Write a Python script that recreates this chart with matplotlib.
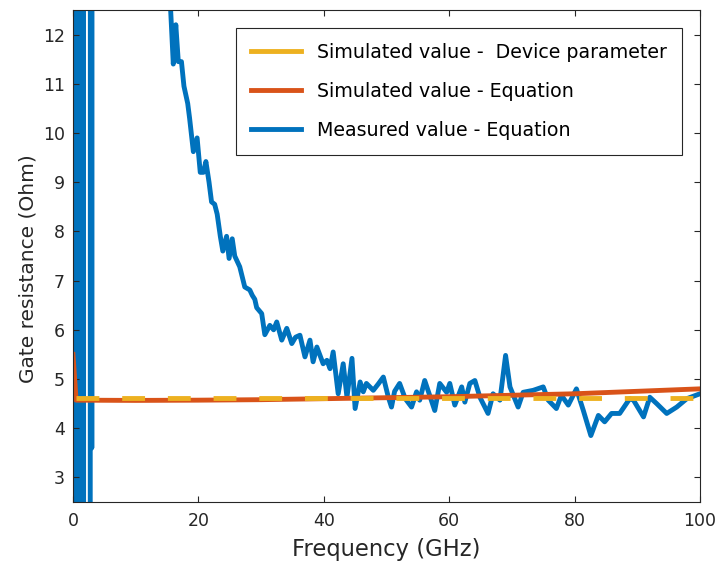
import numpy as np
import matplotlib as mpl
import matplotlib.pyplot as plt
from matplotlib.lines import Line2D

mpl.use('Agg')
mpl.rcParams['font.family'] = 'DejaVu Sans'

# MATLAB default colours
C_BLUE = '#0072BD'
C_ORANGE = '#D95319'
C_YELLOW = '#EDB120'

# measured value - equation (GHz, Ohm); low-frequency points are far off scale
meas_f = [0.0, 0.2, 0.8, 1.0, 1.6, 1.8, 2.6, 2.9, 3.0, 3.1,
          4, 5, 6, 7, 8, 9, 10, 11, 12, 13, 14, 15.5,
          16.0, 16.4, 16.8, 17.3, 17.7, 18.3, 18.6, 19.2, 19.8, 20.3, 20.8,
          21.2, 21.7, 22.1, 22.6, 23.0, 23.5, 23.9, 24.5, 24.9, 25.4, 25.8,
          26.6, 27.4, 28.2, 28.6, 29.0, 29.3, 30.1, 30.6, 31.4, 32.0, 32.5,
          33.3, 34.1, 34.9, 35.5, 36.2, 37.0, 37.8, 38.3, 38.9, 39.9, 40.5,
          41.0, 41.5, 42.3, 43.1, 43.7, 44.5, 45.0, 45.8, 46.3, 46.8, 47.9,
          48.7, 49.5, 50.3, 50.8, 51.3, 52.1, 53.0, 54.0, 54.8, 55.3, 56.1,
          57.7, 58.5, 59.6, 60.1, 60.9, 62.0, 62.5, 63.3, 64.1, 64.9, 66.2,
          67.0, 68.1, 69.0, 69.7, 71.0, 71.8, 73.4, 75.0, 75.8, 77.1, 77.9,
          79.0, 80.3, 81.4, 82.6, 83.8, 84.8, 85.9, 87.2, 88.8, 89.4, 91.0,
          92.0, 93.1, 94.7, 96.3, 97.9, 100.0]
meas_r = [100, -100, 100, -100, 100, -100, -100, 100, 3.6, 100,
          60, 45, 36, 30, 26, 22, 20, 18, 16.5, 15, 13.8, 12.7,
          11.4, 12.2, 11.45, 11.45, 10.95, 10.6, 10.3, 9.62, 9.9, 9.2, 9.2,
          9.42, 9.0, 8.6, 8.55, 8.35, 7.9, 7.6, 7.9, 7.45, 7.85, 7.5,
          7.28, 6.87, 6.81, 6.7, 6.62, 6.45, 6.33, 5.9, 6.09, 6.0, 6.16,
          5.79, 6.03, 5.72, 5.85, 5.89, 5.45, 5.79, 5.35, 5.65, 5.31, 5.38,
          5.21, 5.55, 4.7, 5.31, 4.63, 5.42, 4.4, 4.94, 4.74, 4.91, 4.77,
          4.9, 5.04, 4.63, 4.43, 4.75, 4.91, 4.6, 4.43, 4.74, 4.57, 4.97,
          4.36, 4.91, 4.73, 4.91, 4.47, 4.84, 4.53, 4.91, 4.97, 4.63, 4.30,
          4.70, 4.57, 5.48, 4.84, 4.43, 4.73, 4.77, 4.84, 4.57, 4.40, 4.67,
          4.47, 4.80, 4.36, 3.85, 4.26, 4.13, 4.30, 4.30, 4.60, 4.57, 4.23,
          4.63, 4.50, 4.30, 4.43, 4.60, 4.70]

# simulated value - equation
eq_f = [0.0, 0.5, 10, 20, 30, 40, 50, 60, 70, 80, 90, 100]
eq_r = [5.5, 4.57, 4.565, 4.57, 4.58, 4.60, 4.62, 4.64, 4.67, 4.70, 4.75, 4.80]

# simulated value - device parameter
dev_f = [0.5, 100.0]
dev_r = [4.61, 4.61]

labels = ['Simulated value -  Device parameter',
          'Simulated value - Equation',
          'Measured value - Equation']

fig = plt.figure(figsize=(7.19, 5.63), dpi=100)
ax = fig.add_axes([0.1015, 0.1083, 0.872, 0.874])

lw = 3.5
l_meas, = ax.plot(meas_f, meas_r, color=C_BLUE, lw=lw, zorder=1,
                  solid_joinstyle='round')
l_eq, = ax.plot(eq_f, eq_r, color=C_ORANGE, lw=lw, zorder=2,
                solid_joinstyle='round')
ax.plot(dev_f, dev_r, color=C_YELLOW, lw=lw, zorder=3, dashes=(4.7, 4.7))
# legend sample for the dashed line shows up as one solid dash
l_dev = Line2D([], [], color=C_YELLOW, lw=lw)

ax.set_xlim(0, 100)
ax.set_ylim(2.5, 12.5)
ax.set_xticks(np.arange(0, 101, 20))
ax.set_yticks(np.arange(3, 13, 1))

ax.tick_params(direction='in', length=4.5, width=0.8, top=True, right=True,
               labelsize=12.5, colors='#262626', pad=6)
ax.tick_params(axis='x', pad=7)
for s in ax.spines.values():
    s.set_color('#262626')
    s.set_linewidth(0.8)

ax.set_xlabel('Frequency (GHz)', fontsize=16.3, color='#262626', labelpad=6)
ax.set_ylabel('Gate resistance (Ohm)', fontsize=14.5, color='#262626')
ax.yaxis.set_label_coords(-0.056, 0.474)

leg = ax.legend([l_dev, l_eq, l_meas], labels, loc='upper right',
                bbox_to_anchor=(0.971, 0.963), fontsize=13.7, frameon=True,
                fancybox=False, edgecolor='#262626', framealpha=1,
                handlelength=2.63, handletextpad=0.84, labelspacing=1.05,
                borderpad=0.78, borderaxespad=0)
leg.get_frame().set_linewidth(0.8)

fig.savefig('out.png', dpi=100)
